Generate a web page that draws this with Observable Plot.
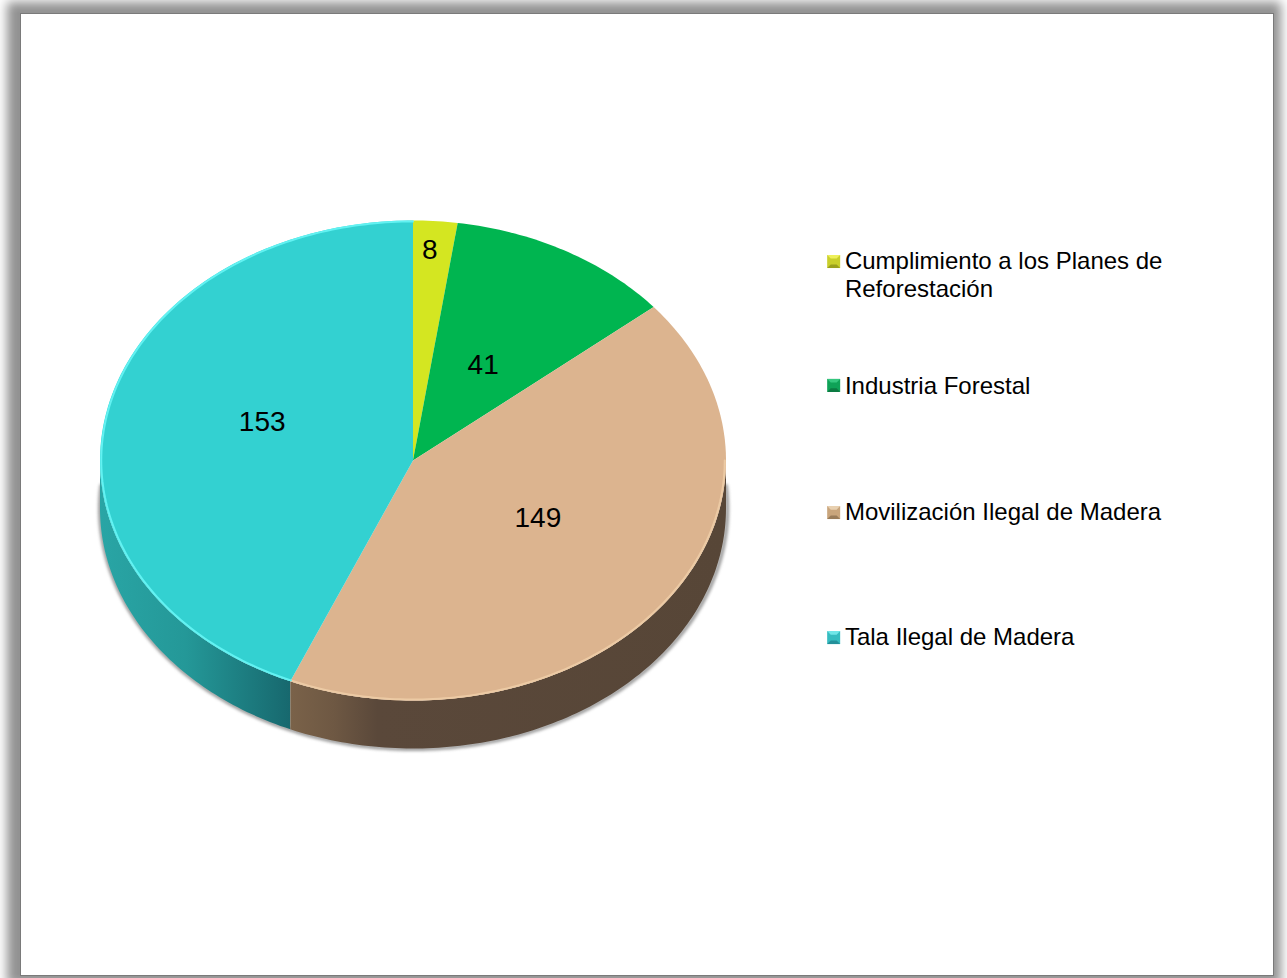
<!DOCTYPE html>
<html lang="es">
<head>
<meta charset="utf-8">
<script src="https://cdn.jsdelivr.net/npm/d3@7"></script>
<script src="https://cdn.jsdelivr.net/npm/@observablehq/plot@0.6"></script>
<style>
html,body{margin:0;padding:0;background:#fff;width:1287px;height:978px;overflow:hidden}
#page{position:relative;width:1287px;height:978px;overflow:hidden;background:#fff}
#sheet{position:absolute;left:20px;top:13px;width:1252px;height:961px;background:#fff;border:1px solid #7a7a7a;box-sizing:content-box;box-shadow:-3px -1px 10px 10px #929292}
#chart{position:absolute;left:0;top:0}
#chart svg{background:transparent;display:block}
</style>
</head>
<body>
<div id="page"><div id="sheet"></div><div id="chart"></div></div>
<script>
const categories = ["Cumplimiento a los Planes de Reforestación","Industria Forestal","Movilización Ilegal de Madera","Tala Ilegal de Madera"];
const legendLabels = ["Cumplimiento a los Planes de\nReforestación","Industria Forestal","Movilización Ilegal de Madera","Tala Ilegal de Madera"];
const values = [8,41,149,153];
const topColors = ["#d4e621","#00b550","#dcb48f","#33d1d1"];
const rimColors = ["#e6f552","#22cf70","#eccaa4","#62f2f2"];
const swatchMid = ["#c9cf2b","#0fa257","#c9a57c","#35bcc0"];
const swatchLight = ["#eef05a","#35c77f","#e8d0b0","#6fe6e8"];
const swatchDark = ["#9aa01c","#0c7a42","#9a7c5a","#23909a"];
const labelNudgeX = [0.018,-0.02,-0.002,0.008];
const labelNudgeY = [0.38,-0.04,0.058,0.059];

const depth = 0.2, legendX = 1.38, swatchX = 1.344;
const legendY = [-0.775,-0.316,0.2125,0.733];
const swatchY = [-0.829,-0.313,0.217,0.738];

const slices = d3.pie().sort(null).value(d => d)(values).map((s,i) => ({i, name:categories[i], a0:s.startAngle, a1:s.endAngle, value:values[i]}));
const pt = (a,r=1,dy=0) => ({x:r*Math.sin(a), y:r*Math.cos(a)-dy});
const arc = (a0,a1,r=1,dy=0) => { const n=Math.max(2,Math.ceil(Math.abs(a1-a0)/(Math.PI/180))); return d3.range(n+1).map(k=>pt(a0+(a1-a0)*k/n,r,dy)); };

const topPoly = slices.flatMap(s => [{...pt(0,0)},...arc(s.a0,s.a1),{...pt(0,0)}].map(p=>({...p,name:s.name})));
const side = (a0,a1) => [...arc(a0,a1),...arc(a1,a0,1,depth)];
const cut = slices[2].a1;
const tanSide = side(Math.PI/2,cut);
const tealSide = side(cut,Math.PI*1.5);
const silhouette = arc(Math.PI*0.47,Math.PI*1.53,1.002,depth);
const rims = slices.map(s=>({s,a0:Math.max(s.a0,Math.PI*0.5),a1:s.a1})).filter(r=>r.a1>r.a0).flatMap(r=>arc(r.a0,r.a1,0.996).map(p=>({...p,name:r.s.name,i:r.s.i})));

const labels = slices.map((s,i)=>{const m=(s.a0+s.a1)/2; return {x:0.5*Math.sin(m)+labelNudgeX[i], y:0.5*Math.cos(m)+labelNudgeY[i], text:String(s.value)};});
const legend = categories.map((c,i)=>({name:c,label:legendLabels[i],y:legendY[i],sy:swatchY[i],mid:swatchMid[i],light:swatchLight[i],dark:swatchDark[i]}));

const gradients = () => {
  const defs = d3.create("svg:defs");
  const add = (id,stops)=>{const g=defs.append("linearGradient").attr("id",id).attr("x1",0).attr("x2",1).attr("y1",0).attr("y2",0);
    stops.forEach(([o,c])=>g.append("stop").attr("offset",o).attr("stop-color",c));};
  add("sideTeal",[[0,"#29a5a5"],[0.45,"#249898"],[1,"#17686e"]]);
  add("sideTan",[[0,"#7a6249"],[0.1,"#6e5843"],[0.2,"#5a483a"],[1,"#574637"]]);
  return defs.node();
};
const trapTop = {draw(c,size){const h=Math.sqrt(size)/2,i=h*0.45;c.moveTo(-h,-h);c.lineTo(h,-h);c.lineTo(i,-i);c.lineTo(-i,-i);c.closePath();}};
const trapBottom = {draw(c,size){const h=Math.sqrt(size)/2,i=h*0.45;c.moveTo(-h,h);c.lineTo(h,h);c.lineTo(i,i);c.lineTo(-i,i);c.closePath();}};
const whole = {draw(c,size){const h=Math.sqrt(size)/2;c.rect(-h,-h,2*h,2*h);}};
const swR = Math.sqrt(169/Math.PI);

const chart = Plot.plot({
  width:1287, height:978, margin:0,
  x:{domain:[-1,1], range:[99.5,725.5], axis:null},
  y:{domain:[-1,1], range:[220,700], axis:null},
  color:{domain:categories, range:topColors},
  style:{fontFamily:"'Liberation Sans',Arial,sans-serif", background:"transparent"},
  marks:[
    gradients,
    Plot.line(silhouette,{x:d=>d.x+0.002,y:d=>-d.y,stroke:"#7d7d7d",strokeWidth:4,strokeOpacity:0.75,imageFilter:"blur(1.6px)"}),
    Plot.line(tealSide,{x:"x",y:d=>-d.y,fill:"url(#sideTeal)",stroke:"none"}),
    Plot.line(tanSide,{x:"x",y:d=>-d.y,fill:"url(#sideTan)",stroke:"none"}),
    Plot.line(topPoly,{x:"x",y:d=>-d.y,z:"name",fill:"name",stroke:"none"}),
    Plot.line(rims,{x:"x",y:d=>-d.y,z:"name",stroke:d=>rimColors[d.i],strokeWidth:2,imageFilter:"blur(0.6px)"}),
    Plot.text(labels,{x:"x",y:d=>-d.y,text:"text",fontSize:28,fill:"#000",lineAnchor:"middle"}),
    Plot.dot(legend,{x:()=>swatchX,y:"sy",symbol:whole,r:swR,fill:"mid",stroke:"none"}),
    Plot.dot(legend,{x:()=>swatchX,y:"sy",symbol:trapTop,r:swR,fill:"light",stroke:"none"}),
    Plot.dot(legend,{x:()=>swatchX,y:"sy",symbol:trapBottom,r:swR,fill:"dark",stroke:"none"}),
    Plot.text(legend,{x:()=>legendX,y:"y",text:"label",textAnchor:"start",fontSize:24,lineHeight:1.167,lineAnchor:"middle",fill:"#000"})
  ]
});
document.getElementById("chart").appendChild(chart);
</script>
</body>
</html>
